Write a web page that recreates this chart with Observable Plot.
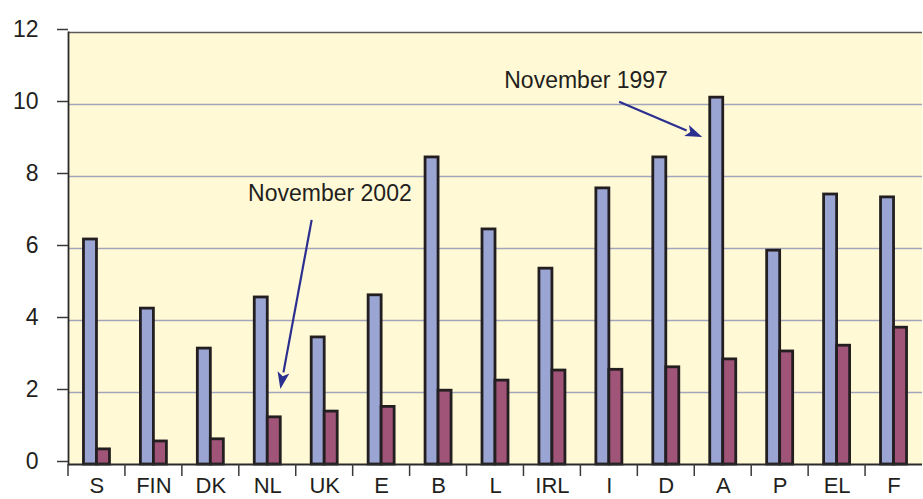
<!DOCTYPE html>
<html><head><meta charset="utf-8">
<script src="https://cdn.jsdelivr.net/npm/d3@7"></script>
<script src="https://cdn.jsdelivr.net/npm/@observablehq/plot@0.6"></script>
<style>
body{margin:0;background:#fff}
#chart svg{display:block}
</style>
</head><body><div id="chart"></div>
<script>
// ---- data ----
const countries = ["S","FIN","DK","NL","UK","E","B","L","IRL","I","D","A","P","EL","F"];
const nov1997 = [6.25,4.33,3.22,4.64,3.53,4.7,8.53,6.53,5.44,7.67,8.53,10.19,5.94,7.5,7.42];
const nov2002 = [0.42,0.64,0.7,1.31,1.47,1.6,2.05,2.33,2.61,2.63,2.7,2.92,3.14,3.3,3.8];
const yTicks = [0,2,4,6,8,10,12];
const labelNames = ["November 1997","November 2002"];
const labelCats = ["IRL","UK"];
const labelYs = [10.67,7.53];
const labelShift = [0.6,0.1]; // fraction of band from centre
// arrows: [category, fraction of band from centre, value]
const arrowStarts = [["I",0.18,10.06],["UK",-0.22,6.78]];
const arrowEnds = [["A",-0.36,9.08],["NL",0.23,2.08]];

const W = 923, H = 499;
const mL = 68, mR = 1, mT = 32, mB = 35;
const step = (W - mL - mR) / countries.length;
const half = step / 2, bw = 13;

const rows = countries.map((c,i)=>({c, a:nov1997[i], b:nov2002[i]}));
const labels = labelNames.map((t,i)=>({t, c:labelCats[i], y:labelYs[i], s:labelShift[i]}));
const font = "'Liberation Sans', Arial, sans-serif";

function boundaryTicks(index, scales, values, dims) {
  const g = d3.create("svg:g");
  for (const c of countries) {
    const x = scales.x(c);
    g.append("line").attr("x1", x).attr("x2", x)
      .attr("y1", dims.height - dims.marginBottom).attr("y2", dims.height - dims.marginBottom + 12)
      .attr("stroke", "#3a3a3a").attr("stroke-width", 1.5);
  }
  return g.node();
}
function arrows(index, scales, values, dims) {
  const g = d3.create("svg:g");
  const bwid = scales.x.bandwidth ? scales.x.bandwidth() : step;
  const px = (c, f) => scales.x(c) + bwid/2 + f*bwid;
  arrowStarts.forEach((s, i) => {
    const e = arrowEnds[i];
    const x1 = px(s[0], s[1]), y1 = scales.y(s[2]);
    const x2 = px(e[0], e[1]), y2 = scales.y(e[2]);
    const ang = Math.atan2(y2 - y1, x2 - x1);
    const L = 17, hw = 6;
    const bx = x2 - L*Math.cos(ang), by = y2 - L*Math.sin(ang);
    g.append("line").attr("x1", x1).attr("y1", y1).attr("x2", bx).attr("y2", by)
      .attr("stroke", "#2b2f8f").attr("stroke-width", 2.2);
    const nx = -Math.sin(ang), ny = Math.cos(ang);
    g.append("path").attr("d", `M${x2},${y2}L${bx+nx*hw},${by+ny*hw}L${bx+Math.cos(ang)*4},${by+Math.sin(ang)*4}L${bx-nx*hw},${by-ny*hw}Z`)
      .attr("fill", "#2b2f8f");
  });
  return g.node();
}
function annotationTexts(index, scales, values, dims) {
  const g = d3.create("svg:g");
  const bwid = scales.x.bandwidth ? scales.x.bandwidth() : step;
  for (const l of labels) {
    g.append("text")
      .attr("x", scales.x(l.c) + bwid/2 + l.s*bwid)
      .attr("y", scales.y(l.y))
      .attr("dy", "0.35em")
      .attr("text-anchor", "middle")
      .attr("font-family", font).attr("font-size", 23).attr("fill", "#231f20")
      .text(l.t);
  }
  return g.node();
}

const chart = Plot.plot({
  width: W, height: H,
  marginLeft: mL, marginRight: mR, marginTop: mT, marginBottom: mB,
  style: {fontFamily: font, fontSize: "22px", color: "#231f20", background: "#fff"},
  x: {domain: countries, padding: 0, round: false, label: null},
  y: {domain: [0, 12], label: null},
  marks: [
    Plot.frame({fill: "#fff9d6", stroke: null}),
    Plot.gridY(yTicks.filter(d => d > 0 && d < 12), {stroke: "#a3a6bb", strokeOpacity: 1, strokeWidth: 1.5}),
    Plot.ruleY([12], {stroke: "#5a5a5a", strokeWidth: 1.5}),
    Plot.barY(rows, {x: "c", y: "a", fill: "#9aa5d4", stroke: "#231f20", strokeWidth: 2.8,
      insetLeft: half - bw, insetRight: half}),
    Plot.barY(rows, {x: "c", y: "b", fill: "#a05478", stroke: "#231f20", strokeWidth: 2.8,
      insetLeft: half, insetRight: half - bw}),
    Plot.ruleY([0], {stroke: "#2a2a2a", strokeWidth: 1.8}),
    Plot.frame({anchor: "left", stroke: "#2a2a2a", strokeWidth: 1.8}),
    Plot.axisY({ticks: yTicks, tickSize: 11, tickPadding: 19, dy: -3, stroke: "#3a3a3a", strokeWidth: 1.5, fontSize: 23, label: null}),
    Plot.axisX({tickSize: 0, tickPadding: 13, fontSize: 22, label: null}),
    boundaryTicks,
    annotationTexts,
    arrows
  ]
});
document.getElementById("chart").appendChild(chart);
</script>
</body></html>
